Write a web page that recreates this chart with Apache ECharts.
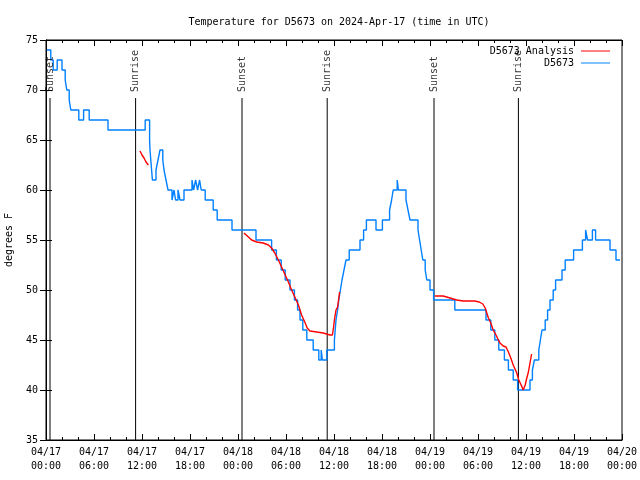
<!DOCTYPE html>
<html><head><meta charset="utf-8">
<script src="https://cdn.jsdelivr.net/npm/echarts@6/dist/echarts.min.js"></script>
<style>html,body{margin:0;padding:0;background:#fff}#c{width:640px;height:480px}</style>
</head><body><div id="c"></div>
<script>
// hours since 2024-04-17 00:00 UTC, temperature (°F)
const blueObs = [[0.1,74],[0.6,73],[0.9,72],[1.4,73],[2.0,72],[2.4,71],[2.6,70],[2.9,69],[3.1,68],[4.1,67],[4.7,68],[5.4,67],[7.75,66],[12.4,67],[12.95,65],[13.0,64],[13.1,63],[13.2,62],[13.3,61],[13.75,62],[14.0,63],[14.25,64],[14.6,63],[14.75,62],[15.0,61],[15.25,60],[15.75,59],[16.0,60],[16.2,59],[16.5,60],[16.75,59],[17.25,60],[18.25,61],[18.45,60],[18.7,61],[18.95,60],[19.2,61],[19.4,60],[19.9,59],[20.9,58],[21.4,57],[23.25,56],[26.25,55],[28.2,54],[28.8,53],[29.4,52],[29.9,51],[30.5,50],[31.05,49],[31.45,48],[31.75,47],[32.1,46],[32.6,45],[33.4,44],[34.1,43],[34.4,44],[34.55,43],[35.1,44],[36.05,45],[36.15,46],[36.25,47],[36.45,48],[36.6,49],[36.8,50],[37.0,51],[37.25,52],[37.5,53],[37.9,54],[39.25,55],[39.7,56],[40.05,57],[41.25,56],[42.05,57],[42.95,58],[43.2,59],[43.4,60],[43.9,61],[44.05,60],[45.0,59],[45.25,58],[45.5,57],[46.5,56],[46.7,55],[46.9,54],[47.1,53],[47.4,52],[47.6,51],[48.0,50],[48.45,49],[51.1,48],[55.0,47],[55.6,46],[56.1,45],[56.6,44],[57.3,43],[57.8,42],[58.4,41],[58.95,40],[60.5,41],[60.8,42],[61.05,43],[61.6,44],[61.8,45],[62.0,46],[62.4,47],[62.7,48],[63.0,49],[63.4,50],[63.7,51],[64.5,52],[64.9,53],[65.95,54],[67.05,55],[67.45,56],[67.7,55],[68.3,56],[68.7,55],[70.5,54],[71.25,53],[71.75,53]];

const redAnalysis1 = [[11.75,63.9],[12.0,63.5],[12.25,63.2],[12.5,62.8],[12.8,62.5]];
const redAnalysis2 = [[24.75,55.7],[25.3,55.3],[25.7,55.0],[26.35,54.8],[27.15,54.7],[27.8,54.5],[28.2,54.2],[28.6,53.7],[29.05,53.0],[29.45,52.3],[29.9,51.5],[30.3,50.8],[30.7,50.0],[31.1,49.3],[31.55,48.5],[31.95,47.5],[32.4,46.7],[32.65,46.2],[33.0,45.9],[33.85,45.8],[34.65,45.7],[35.5,45.5],[35.8,45.5],[35.95,46.3],[36.05,47.0],[36.25,48.0],[36.45,48.3],[36.7,49.8]];
const redAnalysis3 = [[48.6,49.4],[49.65,49.4],[50.5,49.2],[51.35,49.0],[52.15,48.9],[53.0,48.9],[53.6,48.9],[54.15,48.8],[54.6,48.6],[54.9,48.2],[55.1,47.7],[55.3,47.2],[55.6,46.7],[55.9,46.0],[56.25,45.5],[56.55,45.0],[56.75,44.7],[57.15,44.4],[57.5,44.3],[57.8,43.8],[58.1,43.2],[58.4,42.5],[58.85,41.7],[59.1,41.0],[59.4,40.5],[59.65,40.0],[59.9,40.5],[60.1,41.2],[60.3,41.8],[60.5,42.7],[60.7,43.6]];

const sunNames = ['Sunset','Sunrise','Sunset','Sunrise','Sunset','Sunrise'];
const sunHours = [0.5, 11.2, 24.5, 35.15, 48.5, 59.05];

const FONT = 'DejaVu Sans Mono';
const redData = [].concat(redAnalysis1, [[null,null]], redAnalysis2, [[null,null]], redAnalysis3);

function fmtX(v){
  const d = 17 + Math.floor(v/24);
  const h = Math.round(v % 24);
  return '04/' + String(d).padStart(2,'0') + '\n' + String(h).padStart(2,'0') + ':00';
}

const sunSeries = sunHours.map((h,i)=>({
  type:'line', silent:true, symbol:'none', animation:false,
  data:[[h,35],[h,69.2]],
  lineStyle:{color:'#000',width:1}, z:1
}));

const chart = echarts.init(document.getElementById('c'), null, {renderer:'canvas'});
chart.setOption({
  animation:false,
  backgroundColor:'#fff',
  textStyle:{fontFamily:FONT},
  title:{text:'Temperature for D5673 on 2024-Apr-17 (time in UTC)', left:334, top:12, textAlign:'center',
    textStyle:{fontFamily:FONT,fontSize:10,fontWeight:'normal',color:'#000'}},
  legend:{data:['D5673 Analysis','D5673'], right:30, top:46, padding:0, orient:'vertical', align:'right',
      itemWidth:29, itemHeight:1, itemGap:2, icon:'rect', selectedMode:false,
      textStyle:{fontFamily:FONT,fontSize:10,color:'#000',padding:[0,2,0,0]}},
  grid:{left:46, right:18, top:40, bottom:40, show:true, borderColor:'#000', borderWidth:1,
    containLabel:false, outerBoundsMode:'none'},
  xAxis:[
    {type:'value', min:0, max:72, interval:6, position:'bottom',
      axisLine:{lineStyle:{color:'#000'}},
      axisTick:{inside:true, length:6, lineStyle:{color:'#000'}},
      minorTick:{show:true, splitNumber:3, length:3, lineStyle:{color:'#000'}},
      splitLine:{show:false},
      axisLabel:{formatter:fmtX, fontFamily:FONT, fontSize:10, color:'#000', lineHeight:14, margin:5}},
    {type:'value', min:0, max:72, interval:6, position:'top',
      axisLine:{lineStyle:{color:'#000'}},
      axisTick:{inside:true, length:6, lineStyle:{color:'#000'}},
      minorTick:{show:true, splitNumber:3, length:3, lineStyle:{color:'#000'}},
      splitLine:{show:false}, axisLabel:{show:false}}
  ],
  yAxis:[
    {type:'value', min:35, max:75, interval:5, position:'left',
      name:'degrees F', nameLocation:'middle', nameGap:32, nameRotate:90,
      nameTextStyle:{fontFamily:FONT,fontSize:10,color:'#000'},
      axisLine:{show:true,lineStyle:{color:'#000'}},
      axisTick:{show:true,inside:true,length:6,lineStyle:{color:'#000'}},
      splitLine:{show:false},
      axisLabel:{fontFamily:FONT,fontSize:10,color:'#000',margin:8}},
    {type:'value', min:35, max:75, interval:5, position:'right',
      axisLine:{show:true,lineStyle:{color:'#000'}},
      axisTick:{show:true,inside:true,length:6,lineStyle:{color:'#000'}},
      splitLine:{show:false}, axisLabel:{show:false}}
  ],
  series:[
    ...sunSeries,
    {type:'scatter', silent:true, symbolSize:0, z:5,
      data:sunHours.map((h,i)=>({value:[h,69.8], name:sunNames[i]})),
      label:{show:true, position:'inside', rotate:90, align:'left', verticalAlign:'middle', formatter:p=>p.name,
        fontFamily:FONT, fontSize:10, color:'#000'}},
    {name:'D5673 Analysis', type:'line', data:redData, symbol:'none', showSymbol:false, connectNulls:false,
      lineStyle:{color:'#ff0000', width:1.4}, itemStyle:{color:'#ff0000'}, z:4},
    {name:'D5673', type:'line', data:blueObs, step:'end', symbol:'none', showSymbol:false,
      lineStyle:{color:'#0080ff', width:1.4}, itemStyle:{color:'#0080ff'}, z:3}
  ]
});
</script></body></html>
